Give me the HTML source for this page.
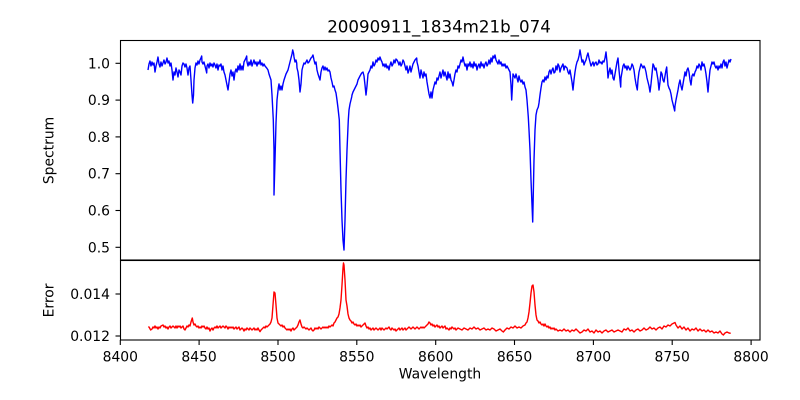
<!DOCTYPE html>
<html><head><meta charset="utf-8"><style>
html,body{margin:0;padding:0;background:#fff;}
svg{display:block;}
text{font-family:"DejaVu Sans","Liberation Sans",sans-serif;fill:#000;}
</style></head><body>
<svg width="800" height="400" viewBox="0 0 800 400" xmlns="http://www.w3.org/2000/svg">
<rect width="800" height="400" fill="#fff"/>
<text x="439" y="32.5" font-size="16.67" text-anchor="middle">20090911_1834m21b_074</text>

<!-- top spectrum -->
<polyline fill="none" stroke="#0000ff" stroke-width="1.4" stroke-linejoin="round" points="148,70 149,64 150,61 151,66 152,62 153,65 154,63 155,72 156,66 157,62 158,57 159,64 160,67 161,62 162,66 163,63 164,60 165,64 166,62 167,58 168,63 169,61 170,66 171,63 172,70 173,80 174,72 175,75 176,68 177,72 178,77 179,70 180,72 181,75 182,66 183,63 184,64 185,67 186,64 187,68 188,75 189,68 190,66 191,80 192,95 192.7,103 193.5,95 194,80 195,68 196,63 197,65 198,61 199,64 200,60 201,58 201.7,56 202,62 203,64 204,62 205,66 206,70 206.7,73 207,66 208,64 209,68 210,63 211,66 212,64 213,67 214,63 215,65 216,68 217,64 218,70 219,65 220,66 221,64 222,70 223,66 224,72 225,75 226,80 227,85 228,90 229,82 230,74 231,70 232,76 233,72 234,80 235,72 236,69 237,72 238,66 239,70 240,64 241,70 242,66 243,70 244,62 245,60 246,58 246.7,56 247,62 248,66 249,62 250,65 251,60 252,66 253,63 254,60 255,64 256,62 257,66 258,62 259,64 260,60 261,65 262,63 263,66 264,64 265,66 266.7,68 268,70 269,74 270,77 271,80 272,95 273.3,120 274,150 274,195 275,160 276,123 277,100 278.3,88 279,84 280,90 281,86 282,90 283,84 284,80 285,77 286,74 287,72 288,70 289,66 290,62 291,58 292,54 292.7,50 293.5,53 294,57 295,62 296,60 296.7,63 297,68 298,72 299,80 300,92 301,84 302,70 303,66 304,63 305,64 306,62 307,60 308,63 309,62 310,60 311,58 312,57 313,55 314,60 315,64 316,62 317,70 318,74 319,77 320,80 321,72 322,68 323,66 324,70 325,67 326,70 327,68 328,71 329,70 330,72 331,78 332,82 333,87 334,86 335,90 336,93 337,100 338,108 339.3,120 340,150 341,190 342,220 343,240 344,250 345,220 346,180 347,150 348.3,120 349,110 350,104 351.7,97 352,95 353,92 354,90 355,88 356,86 357,84 358,80 359,78 360,76 361.7,73 363,72 364,76 365,85 366,95 367,86 368,74 369,72 370,70 371,66 372,68 373,62 374,66 375,64 376,60 377,62 378,58 379,60 380,57 381,60 382,62 383,66 384,64 385,67 386,64 387,68 388,66 389,70 390,65 391,62 392,66 393,64 394,60 395,63 396,59 397,60 398,62 399,65 400,62 401,66 402,64 403,60 404,62 405,66 406,70 407,66 408,73 409,70 410,66 411,72 412,68 413,64 414,62 415,60 416.7,58 417,62 418,66 419,72 420,78 421,70 422,74 423,78 424,72 425,76 426,74 427,82 428,88 429,94 430,98 431,92 432,98 433,90 434,86 435,82 436,84 437,78 438,80 439,76 440,72 441,78 442,74 443,70 444,76 445,72 446,76 447,80 448,72 449,78 450,74 451,80 452,82 453,86 454,80 455,74 456,70 457,72 458,66 459,68 460,64 461,60 462,62 463,57 464,62 465,66 466,64 467,70 468,64 469,66 470,62 471,67 472,64 473,68 474,62 475,66 476,64 477,70 478,66 479,64 480,68 481,62 482,66 483,64 484,68 485,64 486,62 487,66 488,64 489,60 490,64 491,58 492,62 493,56 494,58 495,55 496,60 497,62 498,64 499,60 500,64 501,62 502,66 503,64 504,66 505,64 506,68 507,66 508,68 509,70 510,72 511,85 511.7,100 512.5,85 513,74 514,76 515,78 516,74 517,78 518,82 519,76 520,80 521,82 522,80 523,84 524,82 525,87 526,90 527,100 528.3,117 529,130 530,150 531,180 532.7,222 534,160 535,130 536,115 537,110 538.3,107 539,103 540,95 541,88 542,82 543,80 544,82 545,77 546,80 547,76 548,78 549,72 550,70 551,74 552,70 553,68 554,73 555,72 556,66 557,70 558,64 559,66 560,72 561,68 562,66 563,64 564,70 565,66 566,67 567,68 568,72 569,74 570,70 571,76 572,82 573,90 574,80 575,72 576,66 577,62 578,60 579,56 580,50 581,56 582,62 583,60 584,65 585,62 586,60 587,56 588,53 589,58 590,62 591,66 592,64 593,62 594,66 595,63 596,62 597,65 598,64 599,60 600,63 601,62 602,64 603,61 604,62 605,58 606,52 607,62 608,78 609,72 610,68 611,74 612,70 613,78 614,80 615,74 616,68 617,62 618,58 619,70 620.7,87 621,78 622,72 623,66 624,64 625,68 626,66 627,70 628,66 629,68 630,70 631,68 632,64 633,66 634,70 635,78 636,84 637.3,90 638,80 639,72 640,68 641,64 642,66 643,68 644,66 645,68 646,72 647,78 648,82 649,86 650,92 651,84 652,74 653,64 654,66 655,70 656,68 657,74 658,80 659,90 660,82 661,72 662,74 663,80 664,82 665,76 666,70 666.7,67 667,72 668,85 669,88 670,90 671,94 672,100 673,104 674.7,111 675,106 676,100 677,95 678,90 679,84 680,80 681,86 682,90 683,84 684,78 685,72 686,76 687,70 688,68 689,72 690,80 691,85 692,76 693,74 694,76 695,72 696,70 697,66 698,68 699,64 700,66 701,70 702,62 703,66 704,64 705,68 706,74 707,82 708,92 709,80 710,70 711,66 712,62 713,64 714,62 715,66 716,68 717,66 718,70 719,66 720,68 721,64 722,68 723,62 724,60 725,66 726,62 727,68 728,64 729,60 730,62 731,59"/>

<!-- bottom error -->
<polyline fill="none" stroke="#ff0000" stroke-width="1.4" stroke-linejoin="round" points="148.3,326.7 149,327 150.7,330 152,329 153,327 154,328 155,326 156,328 157,327 158,329 159,327 160,328 161,326 163,325 164,327 165,326 166,328 167,327 168,329 169,327 170,326 171,328 172,327 173,326 174,327 175,328 176,326 177,328 178,326 179,327 180,326 181,328 182,327 183,326 184,329 185,330 186,328 187,326 188,327 189,325 190,326 191,322 192.3,318 193,322 194,325 195,324 196,326 197,327 198,326 199,328 200,327 201,328 202,326 203,327 204,326 205,328 206,329 207,327 208,329 209,328 210,331 211,329 212,328 213,330 214,328 215,327 216,328 217,326 218,328 219,327 220,326 221,328 222,327 223,326 224,327 225,328 226,326 227,327 228,329 229,327 230,328 231,327 232,328 233,327 234,329 235,328 236,327 237,329 238,328 239,327 240,330 241,329 242,328 243,329 244,331 245,329 246,330 247,328 248,329 249,330 250,328 251,329 252,330 253,329 254,328 255,330 256,329 257,330 258,328 259,330 260,331.7 261,330 262,329 263,328 264,327 265,328 266,326 267,327 268,326 269,325 270,324 271,322 272,318 273,305 274,292 275,293 276,305 277,318 278,323 279,324 280,325 281,326 282,325 283,327 284,326 285,328 286,329 287,330 288,329 289,330 290,329 291,331 292,329 293,328 294,330 295,329 296,328 297,327 298,325 299,322 300,320 301,324 302,327 303,328 304,327 305,328 306,329 307,328 308,329 309,330 310,329 311,328 312,330 313,331 314,330 315,328 316,329 317,328 318,329 319,327 320,328 321,329 322,328 323,327 324,328 325,327 326,328 327,327 328,328 329,326 330,327 331,326 332,325 333,326 334,323 335,322 336,320 337,318 338,317 339,314 340,308 341,300 342,285 343,268 343.5,263 344,265 345,280 346,300 347,306 348,314 349,318 350,320 351,321 352,323 353,322 354,324 355,325 356,324 357,326 358,325 359,326 360,325 361,327 362,326 363,325 364,324 365,323 366,326 367,328 368,327 369,329 370,328 371,330 372,329 373,328 374,330 375,329 376,328 377,329 378,330 379,329 380,328 381,330 382,328 383,329 384,330 385,329 386,328 387,329 388,328 389,327 390,329 391,330 392,328 393,329 394,330 395,329 396,331 397,330 398,329 399,328 400,330 401,329 402,328 403,330 404,329 405,328 406,330 407,329 408,328 409,327 410,328 411,329 412,328 413,327 414,328 415,329 416,328 417,327 418,328 419,329 420,328 421,327 422,328 423,327 424,328 425,327 426,326 427,325 428,324 429,322 430,323 431,325 432,324 433,326 434,325 435,327 436,326 437,325 438,327 439,326 440,328 441,327 442,326 443,328 444,327 445,326 446,329 447,328 448,329 449,330 450,328 451,329 452,327 453,328 454,329 455,328 456,330 457,329 458,328 460,329 462,330 464,328 466,329 468,330 470,328 472,329 474,327 476,329 478,328 480,330 482,329 484,328 486,330 488,329 490,330 492,328 494,329 496,331 498,330 500,329 502,331 503.3,332 505,330 507,328 509,329 511,327 513,328 515,326 517,328 519,327 521,328 523,326 525,325 526,323 527,322 528,318 529,312 530,303 531,293 532,286 533,285 534,292 535,305 536,315 537,320 538,321 539,323 540,322 541,324 542,325 543,324 544,326 545,324 546,326 547,327 548,326 549,328 550,327 551,329 552,328 553,329 554,328 555,330 556,329 557,330 558,331 560,330 562,331 564,329 566,331 568,330 570,332 572,330 574,331 576,329 578,331 580,333 582,332 584,330 586,331 588,329 590,332 592,331 594,333 596,330 598,332 600,331 602,333 604,331 606,330 608,332 610,331 612,330 614,332 616,331 618,330 620,331 622,332 624,329 626,330 628,328 630,331 632,330 634,332 636,330 638,329 640,331 642,330 644,328 646,330 648,329 650,327 652,329 654,328 656,330 658,328 660,327 662,329 664,326 666,327 668,325 670,326 672,324 674,323 675,322.5 676,325 678,328 680,326 682,329 684,327 686,330 688,328 690,331 692,329 694,330 696,328 698,331 700,329 702,331 704,330 706,332 708,330 710,332 712,331 714,333 716,332 718,333 720,331 722,334 723.3,335 725,333 727,332 729,333 730.7,333.3"/>

<!-- spines -->
<g fill="none" stroke="#000" stroke-width="1.1">
<rect x="120.5" y="40.5" width="639.5" height="219.5"/>
<rect x="120.5" y="260.5" width="639.5" height="79.5"/>
</g>

<!-- top y ticks -->
<g stroke="#000" stroke-width="1.1">
<line x1="115.5" y1="63.3" x2="120.5" y2="63.3"/>
<line x1="115.5" y1="100.1" x2="120.5" y2="100.1"/>
<line x1="115.5" y1="136.9" x2="120.5" y2="136.9"/>
<line x1="115.5" y1="173.7" x2="120.5" y2="173.7"/>
<line x1="115.5" y1="210.5" x2="120.5" y2="210.5"/>
<line x1="115.5" y1="247.3" x2="120.5" y2="247.3"/>
<line x1="115.5" y1="294" x2="120.5" y2="294"/>
<line x1="115.5" y1="336" x2="120.5" y2="336"/>
<line x1="120.3" y1="340" x2="120.3" y2="345"/>
<line x1="199.1" y1="340" x2="199.1" y2="345"/>
<line x1="278" y1="340" x2="278" y2="345"/>
<line x1="356.8" y1="340" x2="356.8" y2="345"/>
<line x1="435.7" y1="340" x2="435.7" y2="345"/>
<line x1="514.5" y1="340" x2="514.5" y2="345"/>
<line x1="593.4" y1="340" x2="593.4" y2="345"/>
<line x1="672.2" y1="340" x2="672.2" y2="345"/>
<line x1="751.1" y1="340" x2="751.1" y2="345"/>
</g>
<g font-size="13.9" text-anchor="end">
<text x="110" y="68.3">1.0</text>
<text x="110" y="105.1">0.9</text>
<text x="110" y="141.9">0.8</text>
<text x="110" y="178.7">0.7</text>
<text x="110" y="215.5">0.6</text>
<text x="110" y="252.3">0.5</text>
<text x="110" y="299">0.014</text>
<text x="110" y="341">0.012</text>
</g>
<g font-size="13.9" text-anchor="middle">
<text x="120.3" y="361.5">8400</text>
<text x="199.1" y="361.5">8450</text>
<text x="278" y="361.5">8500</text>
<text x="356.8" y="361.5">8550</text>
<text x="435.7" y="361.5">8600</text>
<text x="514.5" y="361.5">8650</text>
<text x="593.4" y="361.5">8700</text>
<text x="672.2" y="361.5">8750</text>
<text x="751.1" y="361.5">8800</text>
<text x="440" y="378.5">Wavelength</text>
<text transform="translate(53.5,150.5) rotate(-90)">Spectrum</text>
<text transform="translate(53.5,300.5) rotate(-90)">Error</text>
</g>
</svg>
</body></html>
